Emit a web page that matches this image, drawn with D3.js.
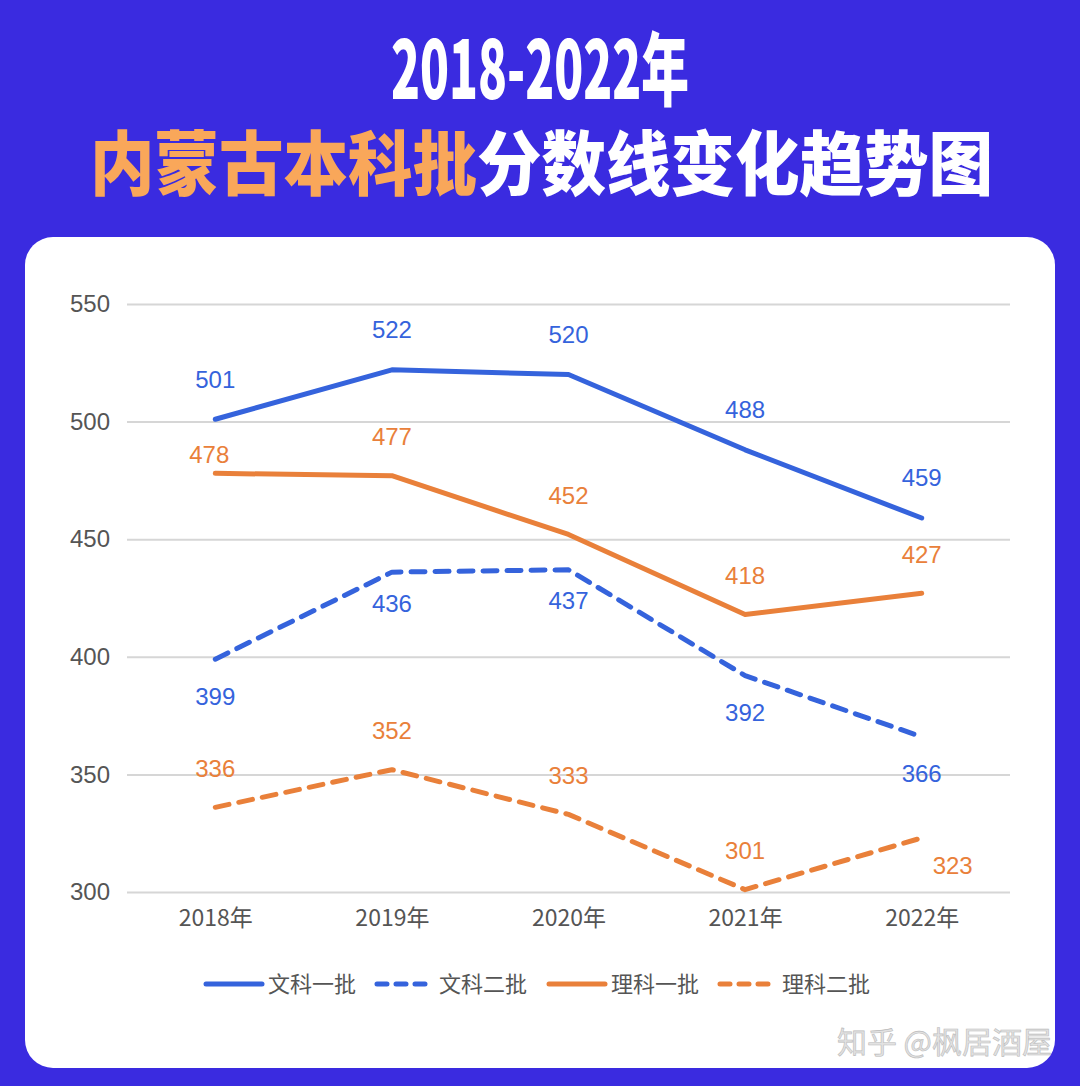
<!DOCTYPE html>
<html>
<head>
<meta charset="utf-8">
<script src="https://cdn.jsdelivr.net/npm/d3@7"></script>
<style>
  body { margin: 0; background: #3a2be0; }
  svg { display: block; }
</style>
</head>
<body>
<svg id="chart"></svg>
<script>
const width = 1080;
const height = 1086;

// data
const years = ["2018年", "2019年", "2020年", "2021年", "2022年"];
const seriesNames = ["文科一批", "文科二批", "理科一批", "理科二批"];
const wenke1 = [501, 522, 520, 488, 459];
const wenke2 = [399, 436, 437, 392, 366];
const like1 = [478, 477, 452, 418, 427];
const like2 = [336, 352, 333, 301, 323];
const yTicks = [300, 350, 400, 450, 500, 550];

const blue = '#3563dc';
const orange = '#e9803a';

const series = [
  { name: seriesNames[0], values: wenke1, color: blue, dash: null, labelDy: -40 },
  { name: seriesNames[1], values: wenke2, color: blue, dash: '14,10', labelDy: 37 },
  { name: seriesNames[2], values: like1, color: orange, dash: null, labelDy: -39 },
  { name: seriesNames[3], values: like2, color: orange, dash: '14,10', labelDy: -39 }
];
// a few labels were nudged in the original to avoid overlaps: [series, point] -> [dx, dy]
const labelNudge = { "2-0": [-6, -19], "1-1": [0, 31], "1-2": [0, 31], "3-4": [31, 28] };

const svg = d3.select("#chart")
  .attr("width", width)
  .attr("height", height);

// background + card
svg.append("rect").attr("width", width).attr("height", height).attr("fill", "#3a2be0");
svg.append("rect")
  .attr("x", 25).attr("y", 237)
  .attr("width", 1030).attr("height", 831)
  .attr("rx", 28)
  .attr("fill", "#fff");

// title
const titleFont = "'Noto Sans CJK SC', sans-serif";
svg.append("text")
  .attr("x", 540).attr("y", 99)
  .attr("text-anchor", "middle")
  .attr("font-family", titleFont)
  .attr("font-weight", 900)
  .attr("font-size", 80)
  .attr("fill", "#fff")
  .attr("textLength", 298)
  .attr("lengthAdjust", "spacingAndGlyphs")
  .text("2018-2022年");

const t2 = svg.append("text")
  .attr("x", 90).attr("y", 190)
  .attr("font-family", titleFont)
  .attr("font-weight", 900)
  .attr("font-size", 70)
  .attr("textLength", 903)
  .attr("lengthAdjust", "spacingAndGlyphs");
t2.append("tspan").attr("fill", "#f9a75a").text("内蒙古本科批");
t2.append("tspan").attr("fill", "#fff").text("分数线变化趋势图");

// scales
const x = d3.scalePoint()
  .domain(years)
  .range([127, 1010])
  .padding(0.5);

const y = d3.scaleLinear()
  .domain([300, 550])
  .range([892, 304]);

const font = "'Liberation Sans', Arial, sans-serif";

// grid + y labels
const yAxis = svg.append("g")
  .attr("transform", "translate(127,0)")
  .call(d3.axisLeft(y).tickValues(yTicks).tickSize(-883).tickPadding(17));
yAxis.select(".domain").remove();
yAxis.selectAll(".tick line").attr("stroke", "#d6d6d6").attr("stroke-width", 2);
yAxis.selectAll(".tick text")
  .attr("fill", "#555")
  .attr("font-size", 24)
  .attr("font-family", font);

// x labels
const xAxis = svg.append("g")
  .attr("transform", "translate(0,892)")
  .call(d3.axisBottom(x).tickSize(0).tickPadding(18));
xAxis.select(".domain").remove();
xAxis.selectAll(".tick text")
  .attr("fill", "#555")
  .attr("font-size", 23)
  .attr("font-family", "'Noto Sans CJK SC', sans-serif");

// lines
const line = d3.line()
  .x((d, i) => x(years[i]))
  .y(d => y(d));

svg.selectAll("path.series")
  .data(series)
  .join("path")
  .attr("class", "series")
  .attr("d", d => line(d.values))
  .attr("fill", "none")
  .attr("stroke", d => d.color)
  .attr("stroke-width", 5)
  .attr("stroke-linecap", "round")
  .attr("stroke-linejoin", "round")
  .attr("stroke-dasharray", d => d.dash);

// value labels
series.forEach(function(s, si) {
  svg.append("g")
    .selectAll("text")
    .data(s.values)
    .join("text")
    .attr("x", (d, i) => x(years[i]) + (labelNudge[si + "-" + i] ? labelNudge[si + "-" + i][0] : 0))
    .attr("y", (d, i) => y(d) + (labelNudge[si + "-" + i] ? labelNudge[si + "-" + i][1] : s.labelDy))
    .attr("dy", "0.35em")
    .attr("text-anchor", "middle")
    .attr("font-family", font)
    .attr("font-size", 24)
    .attr("fill", s.color)
    .text(d => d);
});

// legend
const legendX = [204, 375, 547, 718];
const legend = svg.append("g")
  .selectAll("g")
  .data(series)
  .join("g")
  .attr("transform", (d, i) => `translate(${legendX[i]},984)`);

legend.append("line")
  .attr("x1", 2).attr("x2", 58)
  .attr("stroke", d => d.color)
  .attr("stroke-width", 5)
  .attr("stroke-linecap", "round")
  .attr("stroke-dasharray", d => d.dash ? "10,9" : null);

legend.append("text")
  .attr("x", 64)
  .attr("dy", "0.35em")
  .attr("font-family", "'Noto Sans CJK SC', sans-serif")
  .attr("font-size", 22)
  .attr("fill", "#555")
  .text(d => d.name);

// watermark
svg.append("text")
  .attr("x", 1052).attr("y", 1042)
  .attr("dy", "0.35em")
  .attr("text-anchor", "end")
  .attr("font-family", "'Noto Sans CJK SC', sans-serif")
  .attr("font-size", 30)
  .attr("fill", "#e2e2e2")
  .attr("stroke", "#bbb")
  .attr("stroke-width", 0.6)
  .text("知乎 @枫居酒屋");
</script>
</body>
</html>
